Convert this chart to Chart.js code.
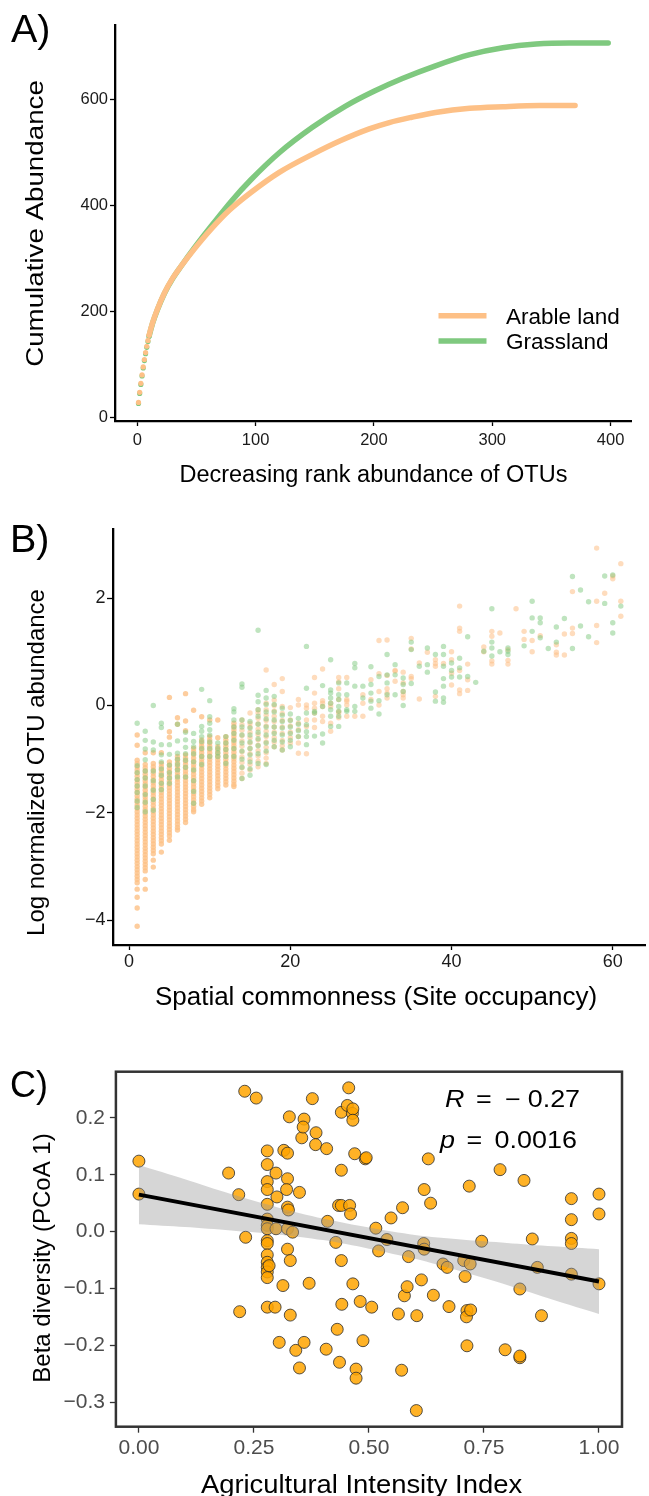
<!DOCTYPE html>
<html>
<head>
<meta charset="utf-8">
<script src="https://cdn.jsdelivr.net/npm/chart.js@4.4.1/dist/chart.umd.min.js"></script>
<style>
  html, body { margin: 0; padding: 0; background: #fff; }
  body { position: relative; width: 649px; height: 1496px; overflow: hidden; }
  canvas { position: absolute; left: 0; }
</style>
</head>
<body>
<canvas id="chartA" width="649" height="500" style="top:0px;width:649px;height:500px"></canvas>
<canvas id="chartB" width="649" height="520" style="top:500px;width:649px;height:520px"></canvas>
<canvas id="chartC" width="649" height="496" style="top:1000px;width:649px;height:496px"></canvas>
<script>
// ---- A) cumulative abundance by rank (read along the curves) ----
const rankArable = [1, 2, 3, 4, 5, 6, 7, 8, 9, 10, 13, 17, 23, 30, 37, 48, 62, 78, 96, 120, 148, 172, 196, 213, 232, 252, 281, 309, 340, 370];
const cumArable = [29, 48, 65, 81, 96, 110, 123, 135, 146, 156, 180, 205, 236, 264, 286, 318, 355, 392, 425, 463, 497, 523, 545, 557, 567, 576, 584, 587, 589, 589];
const rankGrass = [1, 2, 3, 4, 5, 6, 7, 8, 9, 10, 13, 17, 23, 30, 37, 48, 64, 80, 96, 120, 148, 176, 200, 224, 252, 281, 309, 337, 365, 398];
const cumGrass = [27, 46, 63, 79, 94, 108, 121, 133, 144, 154, 179, 204, 235, 263, 286, 320, 366, 410, 449, 500, 548, 588, 616, 640, 664, 685, 698, 705, 707, 707];
const ticksAx = [0, 100, 200, 300, 400];
const ticksAy = [0, 200, 400, 600];

// ---- B) log abundance per site occupancy (index 0 = occupancy 1) ----
const arableByOcc = [
  [-1.02, -1.08, -1.14, -1.2, -1.26, -1.32, -1.38, -1.44, -1.5, -1.56, -1.62, -1.68, -1.74, -1.8, -1.86, -1.92, -1.98, -2.04, -2.1, -2.16, -2.22, -2.28, -2.34, -2.4, -2.46, -2.52, -2.58, -2.64, -2.7, -2.76, -2.82, -2.88, -2.94, -3.0, -3.06, -3.12, -3.18, -3.24, -3.3, -3.42, -3.57, -3.77, -4.11, -0.74, -0.55],
  [-1.1, -1.16, -1.22, -1.28, -1.34, -1.4, -1.46, -1.52, -1.58, -1.64, -1.7, -1.76, -1.82, -1.88, -1.94, -2.0, -2.06, -2.12, -2.18, -2.24, -2.3, -2.36, -2.42, -2.48, -2.54, -2.6, -2.66, -2.72, -2.78, -2.84, -2.9, -2.96, -3.02, -3.08, -3.24, -3.42, -0.88],
  [-1.08, -1.14, -1.2, -1.26, -1.32, -1.38, -1.44, -1.5, -1.56, -1.62, -1.68, -1.74, -1.8, -1.86, -1.92, -1.98, -2.04, -2.1, -2.16, -2.22, -2.28, -2.34, -2.4, -2.46, -2.52, -2.58, -2.64, -2.7, -2.76, -2.88, -3.01, -0.88],
  [-1.08, -1.14, -1.2, -1.26, -1.32, -1.38, -1.44, -1.5, -1.56, -1.62, -1.68, -1.74, -1.8, -1.86, -1.92, -1.98, -2.04, -2.1, -2.16, -2.22, -2.28, -2.34, -2.4, -2.46, -2.52, -2.58, -2.73, -0.88],
  [-1.05, -1.11, -1.17, -1.23, -1.29, -1.35, -1.41, -1.47, -1.53, -1.59, -1.65, -1.71, -1.77, -1.83, -1.89, -1.95, -2.01, -2.07, -2.13, -2.19, -2.25, -2.31, -2.37, -2.43, -2.51, -0.59, -0.49, 0.15],
  [-0.95, -1.01, -1.07, -1.13, -1.19, -1.25, -1.31, -1.37, -1.43, -1.49, -1.55, -1.61, -1.67, -1.73, -1.79, -1.85, -1.91, -1.97, -2.03, -2.09, -2.15, -2.21, -2.27, -2.32, -0.35, -0.23],
  [-0.92, -0.98, -1.04, -1.1, -1.16, -1.22, -1.28, -1.34, -1.4, -1.46, -1.52, -1.58, -1.64, -1.7, -1.76, -1.82, -1.88, -1.94, -2.0, -2.06, -2.12, -2.18, -0.47, -0.29, 0.22],
  [-0.8, -0.86, -0.92, -0.98, -1.04, -1.1, -1.16, -1.22, -1.28, -1.34, -1.4, -1.46, -1.52, -1.58, -1.64, -1.7, -1.76, -1.82, -1.88, -1.94, -1.98, -0.09],
  [-0.64, -0.7, -0.76, -0.82, -0.88, -0.94, -1.0, -1.06, -1.12, -1.18, -1.24, -1.3, -1.36, -1.42, -1.48, -1.54, -1.6, -1.66, -1.72, -1.78, -1.84, -0.21],
  [-0.58, -0.64, -0.7, -0.76, -0.82, -0.88, -0.94, -1.0, -1.06, -1.12, -1.18, -1.24, -1.3, -1.36, -1.42, -1.48, -1.54, -1.6, -1.66, -1.72, -0.27],
  [-0.77, -0.83, -0.89, -0.95, -1.01, -1.07, -1.13, -1.19, -1.25, -1.31, -1.37, -1.43, -1.49, -1.55, -0.6, -0.27],
  [-0.58, -0.64, -0.7, -0.76, -0.82, -0.88, -0.94, -1.0, -1.06, -1.12, -1.18, -1.24, -1.3, -1.36, -1.42, -1.48],
  [-0.33, -0.39, -0.45, -0.51, -0.57, -0.63, -0.69, -0.75, -0.81, -0.87, -0.93, -0.99, -1.05, -1.11, -1.17, -1.23, -1.29, -1.35, -1.41, -1.47, -1.51],
  [-1.36, -1.26, -1.16, -1.06, -0.96, -0.86, -0.76, -0.66, -0.56, -0.46, -0.36, -0.27],
  [-1.2, -1.1, -1.0, -0.9, -0.8, -0.7, -0.6, -0.5, -0.4, -0.33, -0.14],
  [-1.14, -1.04, -0.94, -0.84, -0.74, -0.64, -0.54, -0.44, -0.34, -0.24, -0.14, -0.08],
  [-1.08, -0.98, -0.88, -0.78, -0.68, -0.58, -0.48, -0.38, -0.28, -0.18, -0.08, 0.04, 0.66],
  [0.39, 0.1, 0.0, -0.1, -0.2, -0.3, -0.4, -0.5, -0.6, -0.68, -0.77],
  [0.5, 0.26, -0.02, -0.15, -0.28, -0.4, -0.52, -0.65, -0.75, -0.83],
  [-0.04, -0.27, -0.38, -0.5, -0.6, -0.7],
  [0.11, 0.01, -0.33, -0.45, -0.58, -0.7, -0.89],
  [0.01, -0.05, -0.27, -0.39, -0.9],
  [0.52, 0.23, 0.04, -0.05, -0.14, -0.27, -0.41],
  [0.68, 0.09, 0.04, -0.02, -0.2, -0.3],
  [0.04, -0.02, -0.33, -0.48],
  [0.52, 0.44, 0.31, 0.11, -0.11, -0.14, -0.23],
  [0.52, 0.11, 0.08, 0.01, -0.2],
  [-0.2],
  [0.04, 0.2, -0.2],
  [0.48, 0.11],
  [1.21, 0.59, 0.26, 0.01],
  [1.22, 0.56, 0.31, 0.23, 0.14],
  [0.65, 0.45, 0.64],
  [0.62, 0.42, 0.26, 0.2, 0.14],
  [1.25, 1.05, 0.54, 0.5],
  [0.79, 0.12],
  [0.99],
  [0.85, 0.78, 0.73, 0.17],
  [0.78],
  [1.0, 0.85, 0.6, 0.38],
  [1.85, 1.44, 1.38, 0.65, 0.22, 0.29],
  [0.77, 0.48, 0.28],
  [],
  [1.0, 1.09],
  [1.38, 1.29, 0.83, 0.77],
  [1.35],
  [1.04, 0.84, 0.77],
  [1.8],
  [1.23, 1.38],
  [1.21, 1.0],
  [1.3],
  [],
  [1.13, 0.99, 0.94],
  [1.33, 0.94],
  [2.12, 1.44, 1.34],
  [],
  [],
  [2.93, 1.94, 1.49, 1.17],
  [2.09],
  [2.41, 2.36],
  [2.64, 1.94, 1.66]
];
const grassByOcc = [
  [-0.33, -1.12, -1.25, -1.38, -1.5, -1.62, -1.78, -1.9],
  [-0.48, -0.65, -0.81, -1.01, -1.22, -1.35, -1.5, -1.66, -1.8, -1.98],
  [0.0, -0.68, -0.83, -1.22, -1.4, -1.58, -1.75, -1.95],
  [-0.33, -0.41, -0.73, -0.92, -1.05, -1.18, -1.3, -1.45, -1.57],
  [-0.73, -0.91, -1.11, -1.25, -1.35, -1.45],
  [-0.35, -0.66, -0.89, -1.0, -1.1, -1.2, -1.33],
  [-0.5, -0.64, -0.78, -0.9, -1.02, -1.15, -1.33],
  [-0.52, -0.67, -0.77, -0.9, -1.05, -1.2, -1.4, -1.6, -1.82],
  [0.3, -0.39, -0.48, -0.58, -0.67, -0.8, -0.95, -1.1],
  [0.09, -0.21, -0.33, -0.45, -0.55, -0.68, -0.8, -0.95],
  [-0.7, -0.8, -0.88, -0.95],
  [-0.58, -0.7, -0.82, -0.95, -1.08],
  [-0.06, -0.12, -0.27, -0.4, -0.52, -0.65, -0.8, -0.95],
  [0.4, 0.34, -0.27, -0.4, -0.55, -0.7, -0.85, -1.0, -1.15, -1.36],
  [-0.3, -0.42, -0.55, -0.68, -0.8, -0.92, -1.05, -1.18, -1.3],
  [1.4, 0.19, 0.07, -0.08, -0.2, -0.35, -0.5, -0.62, -0.75, -0.9, -1.08],
  [0.28, 0.14, 0.02, -0.12, -0.25, -0.4, -0.55, -0.7, -0.85, -1.1],
  [0.17, 0.02, -0.12, -0.27, -0.4, -0.52, -0.65, -0.77],
  [-0.05, -0.18, -0.3, -0.42, -0.55, -0.68, -0.83],
  [-0.16, -0.28, -0.4, -0.52, -0.65, -0.77],
  [-0.24, -0.35, -0.47, -0.58],
  [1.1, 0.32, -0.14, -0.36, -0.49, -0.58, -0.73],
  [-0.11, -0.14, -0.57],
  [0.37, -0.02, -0.53, -0.7],
  [0.85, 0.29, 0.23, 0.14, 0.04, -0.08, -0.2, -0.39],
  [0.42, 0.2, 0.11, -0.02, -0.11, -0.2, -0.39],
  [0.42, 0.2, -0.08, -0.11],
  [0.78, 0.7, 0.36, -0.02, -0.11],
  [0.36, 0.14],
  [0.72, 0.39, 0.23, 0.08, -0.05],
  [0.54, 0.09, -0.16],
  [0.95, 0.57, 0.42, 0.2],
  [0.76, 0.57, 0.2],
  [0.51, 0.39, 0.26, 0.0],
  [1.18, 1.04, 0.41],
  [0.73],
  [1.07, 0.76, 0.62],
  [0.95, 0.25, 0.08],
  [1.1, 0.95, 0.73, 0.5, 0.36, 0.14, 0.06],
  [0.79, 0.65, 0.53],
  [0.88, 0.7, 0.53],
  [1.28, 0.54],
  [0.43],
  [1.01],
  [1.8, 1.18, 1.07, 0.92],
  [1.0],
  [1.07, 1.01, 0.95],
  [],
  [1.11],
  [1.94, 1.63, 1.38],
  [1.63, 1.54, 1.26],
  [1.06],
  [1.46, 1.18],
  [1.62],
  [2.4, 1.06],
  [2.15, 1.48],
  [1.93, 1.28],
  [],
  [2.41, 1.9],
  [2.43, 1.54, 1.35],
  [1.85]
];
const ticksBx = [0, 20, 40, 60];
const ticksBy = [-4, -2, 0, 2];

// ---- C) beta diversity vs agricultural intensity ----
const intensity = [0.000, 0.000, 0.195, 0.217, 0.219, 0.230, 0.232, 0.255,
  0.279, 0.279, 0.279, 0.279, 0.279, 0.279, 0.279, 0.279, 0.279, 0.279, 0.279, 0.279, 0.279, 0.279, 0.279, 0.279,
  0.283, 0.298, 0.300, 0.298, 0.296, 0.305, 0.313, 0.315, 0.323, 0.323, 0.321, 0.323, 0.325, 0.323, 0.334, 0.323, 0.329,
  0.327, 0.329, 0.341, 0.349, 0.349, 0.354, 0.359, 0.357, 0.359, 0.370, 0.377, 0.385, 0.384, 0.407, 0.408, 0.410,
  0.428, 0.431, 0.434, 0.440, 0.458, 0.460, 0.436, 0.440, 0.440, 0.440, 0.453, 0.456, 0.464, 0.465, 0.465, 0.441,
  0.465, 0.469, 0.472, 0.472, 0.481, 0.487, 0.492, 0.494, 0.506, 0.515, 0.521, 0.539, 0.548, 0.564, 0.571, 0.573,
  0.577, 0.583, 0.586, 0.604, 0.603, 0.614, 0.619, 0.620, 0.620, 0.629, 0.634, 0.640, 0.661, 0.670, 0.674, 0.706,
  0.720, 0.709, 0.713, 0.712, 0.721, 0.713, 0.718, 0.745, 0.785, 0.796, 0.828, 0.828, 0.828, 0.837, 0.855, 0.866,
  0.875, 0.940, 0.940, 0.940, 0.940, 0.940, 1.000, 1.000, 1.000];
const betaPcoa = [0.124, 0.066, 0.103, 0.065, -0.141, 0.247, -0.010, 0.235,
  0.142, 0.118, 0.088, 0.074, 0.048, 0.022, 0.011, 0.005, -0.016, -0.021, -0.041, -0.054, -0.063, -0.071, -0.081, -0.133,
  -0.060, 0.103, 0.061, 0.005, -0.133, -0.195, -0.095, 0.143, 0.138, 0.093, 0.074, 0.043, 0.038, 0.005, -0.001, -0.031, -0.051,
  0.202, -0.147, -0.209, 0.069, -0.240, 0.165, 0.198, 0.184, -0.195, -0.091, 0.234, 0.174, 0.153, -0.207, 0.146, 0.018,
  -0.019, -0.172, 0.046, 0.046, 0.046, 0.031, -0.230, 0.108, -0.051, 0.210, 0.222, 0.253, 0.208, 0.216, 0.196, -0.128,
  -0.092, 0.137, -0.242, -0.258, -0.123, -0.192, 0.128, 0.130, -0.133, 0.006, -0.034, -0.014, 0.024, -0.145, -0.244, 0.042,
  -0.113, -0.097, -0.044, -0.148, -0.315, -0.085, -0.021, -0.031, 0.074, 0.128, 0.050, -0.112, -0.057, -0.063, -0.132, -0.051,
  -0.057, -0.079, -0.139, -0.150, -0.138, -0.201, 0.080, -0.017, 0.109, -0.208, -0.101, -0.222, -0.219, 0.090, -0.013, -0.063,
  -0.148, 0.058, 0.021, -0.012, -0.021, -0.075, 0.066, 0.031, -0.092];
const fitX = [0, 1];
const fitY = [0.065, -0.088];
const bandX = [0, 0.1, 0.2, 0.3, 0.4, 0.5, 0.6, 0.7, 0.8, 0.9, 1.0];
const bandUpper = [0.117, 0.092, 0.066, 0.043, 0.023, 0.007, -0.006, -0.014, -0.020, -0.026, -0.031];
const bandLower = [0.013, 0.008, 0.002, -0.005, -0.015, -0.030, -0.048, -0.070, -0.094, -0.120, -0.145];
const ticksCx = [0, 0.25, 0.5, 0.75, 1];
const ticksCy = [-0.3, -0.2, -0.1, 0, 0.1, 0.2];

const FONT = "'Liberation Sans', Arial, Helvetica, sans-serif";
const ORANGE = '#FDC086';
const GREEN = '#7FC97F';
const MINUS = '\u2212';
const DOTS = 10; // 곡선 앞부분은 점으로 표시

function toXY(xs, ys) {
  return xs.map(function (x, i) { return { x: x, y: ys[i] }; });
}

function byOccupancy(lists) {
  const pts = [];
  lists.forEach(function (vals, i) {
    vals.forEach(function (v) { pts.push({ x: i + 1, y: v, n: vals.length }); });
  });
  return pts;
}

function signed(v, digits) {
  const s = digits == null ? String(Math.abs(v)) : Math.abs(v).toFixed(digits);
  return v < 0 ? MINUS + s : s;
}

// 축 설정 공통 함수
function axis(o) {
  return {
    type: 'linear',
    min: o.min,
    max: o.max,
    afterBuildTicks: function (s) { s.ticks = o.ticks.map(function (v) { return { value: v }; }); },
    afterFit: function (s) {
      if (o.width) s.width = o.width;
      if (o.height) s.height = o.height;
    },
    grid: { display: true, drawOnChartArea: false, drawTicks: true, tickLength: o.tickLength, tickColor: o.lineColor, tickWidth: 1.3 },
    border: { display: o.border, color: o.lineColor, width: 2.3 },
    ticks: {
      color: o.labelColor,
      padding: o.padding,
      maxRotation: 0,
      autoSkip: false,
      font: { family: FONT, size: o.size },
      callback: o.format
    }
  };
}

// 캔버스에 텍스트 그리기 (y = 대문자 중심)
function drawTexts(ctx, items) {
  items.forEach(function (t) {
    ctx.save();
    ctx.font = (t.style || '') + ' ' + t.size + 'px ' + FONT;
    ctx.fillStyle = t.color || '#000';
    ctx.textAlign = t.align || 'center';
    ctx.textBaseline = 'alphabetic';
    ctx.translate(t.x, t.y);
    if (t.rot) ctx.rotate(t.rot);
    ctx.scale(t.sx || 1, t.sy || 1);
    ctx.fillText(t.text, 0, 0.358 * t.size);
    ctx.restore();
  });
}

const baseOptions = {
  responsive: false,
  animation: false,
  devicePixelRatio: 1,
  events: [],
};

function curveDataset(label, xs, ys, color) {
  return {
    label: label,
    data: toXY(xs, ys),
    showLine: true,
    borderColor: color,
    backgroundColor: color,
    borderWidth: 5.5,
    borderCapStyle: 'round',
    cubicInterpolationMode: 'monotone',
    pointRadius: function (c) { return c.dataIndex < DOTS ? 2.6 : 0; },
    pointBorderWidth: 0,
    segment: { borderColor: function (c) { return c.p1DataIndex <= DOTS - 1 ? 'rgba(0,0,0,0)' : undefined; } }
  };
}

// ---------------- A ----------------
new Chart(document.getElementById('chartA'), {
  type: 'scatter',
  data: {
    datasets: [
      curveDataset('Arable land', rankArable, cumArable, ORANGE),
      curveDataset('Grassland', rankGrass, cumGrass, GREEN)
    ]
  },
  options: Object.assign({}, baseOptions, {
    layout: { padding: { left: 0, top: 25, right: 17.3, bottom: 0 } },
    plugins: { legend: { display: false }, tooltip: { enabled: false } },
    scales: {
      x: axis({ min: -18.85, max: 417.85, ticks: ticksAx, height: 79, tickLength: 5, padding: 5, size: 16.5, lineColor: '#000', labelColor: '#1a1a1a', border: true, format: function (v) { return v; } }),
      y: axis({ min: -6, max: 741, ticks: ticksAy, width: 115, tickLength: 5, padding: 2, size: 16.5, lineColor: '#000', labelColor: '#1a1a1a', border: true, format: function (v) { return v; } })
    }
  }),
  plugins: [{
    id: 'decorA',
    afterDraw: function (chart) {
      const ctx = chart.ctx;
      // 범례
      [[ORANGE, 315.7], [GREEN, 341]].forEach(function (l) {
        ctx.save();
        ctx.strokeStyle = l[0];
        ctx.lineWidth = 5.5;
        ctx.beginPath();
        ctx.moveTo(438.5, l[1]);
        ctx.lineTo(486.5, l[1]);
        ctx.stroke();
        ctx.restore();
      });
      drawTexts(ctx, [
        { text: 'A)', x: 11, y: 27.5, size: 39.5, align: 'left' },
        { text: 'Cumulative Abundance', x: 35, y: 223.5, size: 23.3, rot: -Math.PI / 2, sx: 1.19 },
        { text: 'Decreasing rank abundance of OTUs', x: 373.4, y: 473.3, size: 23.5 },
        { text: 'Arable land', x: 506, y: 315.7, size: 22.5, align: 'left' },
        { text: 'Grassland', x: 506, y: 341, size: 22.5, align: 'left' }
      ]);
    }
  }]
});

// ---------------- B ----------------
new Chart(document.getElementById('chartB'), {
  type: 'scatter',
  data: {
    datasets: [
      {
        label: 'Grassland',
        data: byOccupancy(grassByOcc),
        backgroundColor: 'rgba(127, 201, 127, 0.5)',
        pointRadius: 2.7,
        pointBorderWidth: 0
      },
      {
        label: 'Arable land',
        data: byOccupancy(arableByOcc),
        // 겹침이 많은 열은 진하게
        backgroundColor: function (c) {
          const p = c.raw;
          return p && p.n > 15 ? 'rgba(253, 192, 134, 0.8)' : 'rgba(253, 192, 134, 0.55)';
        },
        pointRadius: 2.7,
        pointBorderWidth: 0
      }
    ]
  },
  options: Object.assign({}, baseOptions, {
    layout: { padding: { left: 0, top: 29.3, right: 0, bottom: 0 } },
    plugins: { legend: { display: false }, tooltip: { enabled: false } },
    scales: {
      x: axis({ min: -2, max: 64, ticks: ticksBx, height: 75, tickLength: 5, padding: 1, size: 18, lineColor: '#000', labelColor: '#1a1a1a', border: true, format: function (v) { return v; } }),
      y: axis({ min: -4.46, max: 3.28, ticks: ticksBy, width: 113, tickLength: 6, padding: 1.5, size: 18, lineColor: '#000', labelColor: '#1a1a1a', border: true, format: function (v) { return signed(v); } })
    }
  }),
  plugins: [{
    id: 'decorB',
    afterDraw: function (chart) {
      drawTexts(chart.ctx, [
        { text: 'B)', x: 10, y: 37.5, size: 39.5, align: 'left' },
        { text: 'Log normalized OTU abundance', x: 35, y: 262.5, size: 24, rot: -Math.PI / 2 },
        { text: 'Spatial commonness (Site occupancy)', x: 376, y: 496, size: 26 }
      ]);
    }
  }]
});

// ---------------- C ----------------
new Chart(document.getElementById('chartC'), {
  type: 'scatter',
  data: {
    datasets: [
      {
        type: 'line',
        label: 'fit',
        data: toXY(fitX, fitY),
        borderColor: '#000',
        borderWidth: 4,
        pointRadius: 0,
        fill: false,
        order: 1
      },
      {
        type: 'line',
        label: 'se upper',
        data: toXY(bandX, bandUpper),
        borderWidth: 0,
        borderColor: 'rgba(0,0,0,0)',
        backgroundColor: 'rgba(153, 153, 153, 0.4)',
        pointRadius: 0,
        tension: 0.3,
        fill: '+1',
        order: 2
      },
      {
        type: 'line',
        label: 'se lower',
        data: toXY(bandX, bandLower),
        borderWidth: 0,
        borderColor: 'rgba(0,0,0,0)',
        pointRadius: 0,
        tension: 0.3,
        fill: false,
        order: 2
      },
      {
        label: 'sites',
        data: toXY(intensity, betaPcoa),
        backgroundColor: 'rgba(255, 165, 0, 0.85)',
        borderColor: '#2b2b2b',
        borderWidth: 0.8,
        pointRadius: 6,
        order: 3
      }
    ]
  },
  options: Object.assign({}, baseOptions, {
    layout: { padding: { left: 0, top: 71.7, right: 27, bottom: 0 } },
    plugins: { legend: { display: false }, tooltip: { enabled: false } },
    scales: {
      x: axis({ min: -0.05, max: 1.05, ticks: ticksCx, height: 69.3, tickLength: 6, padding: 3, size: 21, lineColor: '#333', labelColor: '#4d4d4d', border: false, format: function (v) { return v.toFixed(2); } }),
      y: axis({ min: -0.3434, max: 0.2814, ticks: ticksCy, width: 115.9, tickLength: 6, padding: 5, size: 21, lineColor: '#333', labelColor: '#4d4d4d', border: false, format: function (v) { return signed(v, 1); } })
    }
  }),
  plugins: [{
    id: 'decorC',
    afterDraw: function (chart) {
      const ctx = chart.ctx;
      const a = chart.chartArea;
      ctx.save();
      ctx.strokeStyle = '#333';
      ctx.lineWidth = 2.5;
      ctx.strokeRect(a.left, a.top, a.right - a.left, a.bottom - a.top);
      ctx.restore();
      drawTexts(ctx, [
        { text: 'C)', x: 10, y: 84, size: 36, align: 'left' },
        { text: 'Beta diversity (PCoA 1)', x: 41.5, y: 258, size: 24, rot: -Math.PI / 2 },
        { text: 'Agricultural Intensity Index', x: 361.5, y: 484, size: 25.6, sx: 1.07 },
        { text: 'R', x: 445, y: 99, size: 23, style: 'italic', align: 'left', sx: 1.17 },
        { text: '=', x: 476, y: 99, size: 23, align: 'left', sx: 1.17 },
        { text: MINUS, x: 505, y: 99, size: 23, align: 'left', sx: 1.17 },
        { text: '0.27', x: 527.7, y: 99, size: 23, align: 'left', sx: 1.17 },
        { text: 'p', x: 440, y: 140, size: 23, style: 'italic', align: 'left', sx: 1.17 },
        { text: '=', x: 466.5, y: 140, size: 23, align: 'left', sx: 1.17 },
        { text: '0.0016', x: 494.6, y: 140, size: 23, align: 'left', sx: 1.17 }
      ]);
    }
  }]
});
</script>
</body>
</html>
